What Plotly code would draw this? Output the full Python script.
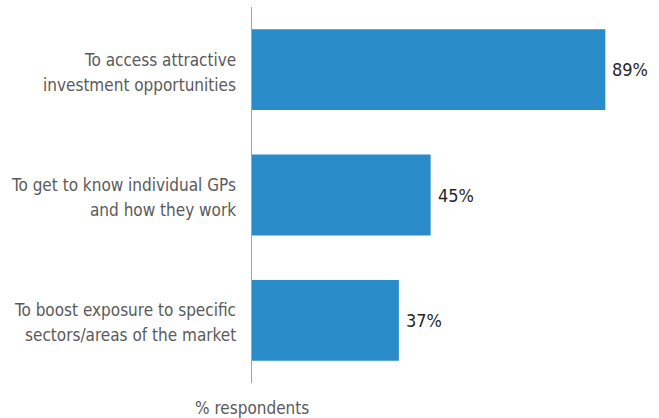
import plotly.graph_objects as go

categories = [
    "To access attractive<br>investment opportunities",
    "To get to know individual GPs<br>and how they work",
    "To boost exposure to specific<br>sectors/areas of the market",
]
values = [89, 45, 37]
value_labels = [f"{v}%" for v in values]

FONT = "DejaVu Sans Condensed, Roboto, sans-serif"
LABEL_GRAY = "#5a5a5a"

fig = go.Figure(
    go.Bar(
        x=values,
        y=categories,
        orientation="h",
        marker=dict(color="#2a8bc9", line=dict(width=0)),
        width=0.645,
        hoverinfo="x+y",
    )
)

annotations = []
# Category labels: two right-aligned lines each, looser leading than tick labels allow
for cat in categories:
    first, second = cat.split("<br>")
    for line, shift in ((first, 10), (second, -15)):
        annotations.append(
            dict(
                text=line,
                xref="paper",
                yref="y",
                x=0,
                y=cat,
                xanchor="right",
                yanchor="middle",
                xshift=-14,
                yshift=shift,
                showarrow=False,
                font=dict(family=FONT, size=17, color=LABEL_GRAY),
            )
        )

# Value labels just past the end of each bar
for cat, val, lab in zip(categories, values, value_labels):
    annotations.append(
        dict(
            text=lab,
            xref="x",
            yref="y",
            x=val,
            y=cat,
            xanchor="left",
            yanchor="middle",
            xshift=5,
            yshift=0,
            showarrow=False,
            font=dict(family=FONT, size=18, color="#262626"),
        )
    )

# Axis caption centred under the category axis line
annotations.append(
    dict(
        text="% respondents",
        xref="paper",
        yref="paper",
        x=0,
        y=0,
        xanchor="center",
        yanchor="top",
        yshift=-13,
        showarrow=False,
        font=dict(family=FONT, size=17, color=LABEL_GRAY),
    )
)

fig.update_layout(
    width=659,
    height=418,
    margin=dict(l=252, r=10, t=7, b=35, autoexpand=False),
    paper_bgcolor="white",
    plot_bgcolor="white",
    showlegend=False,
    font=dict(family=FONT),
    xaxis=dict(
        range=[0, 100],
        visible=False,
        fixedrange=True,
    ),
    yaxis=dict(
        autorange="reversed",
        automargin=False,
        showline=True,
        linecolor="#9aa6b2",
        linewidth=1,
        showgrid=False,
        zeroline=False,
        ticks="",
        showticklabels=False,
    ),
    annotations=annotations,
)

fig.write_html("out.html")
